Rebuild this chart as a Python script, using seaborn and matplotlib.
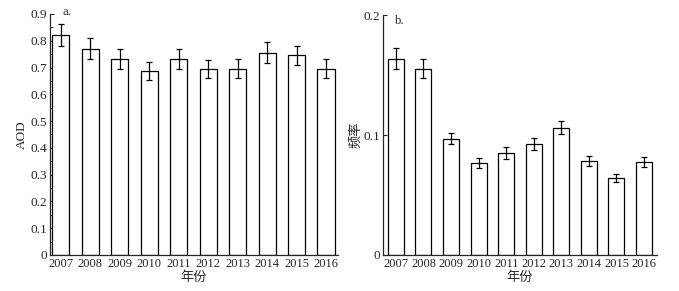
import numpy as np
import pandas as pd
import matplotlib.pyplot as plt
import seaborn as sns

years = ['2007', '2008', '2009', '2010', '2011', '2012', '2013', '2014', '2015', '2016']
aod = [0.821, 0.771, 0.731, 0.687, 0.731, 0.693, 0.695, 0.756, 0.745, 0.695]
aod_err = [0.042, 0.039, 0.037, 0.035, 0.037, 0.034, 0.035, 0.038, 0.037, 0.035]
freq = [0.1638, 0.1554, 0.0969, 0.0769, 0.0850, 0.0928, 0.1061, 0.0783, 0.0643, 0.0777]
freq_err = [0.0084, 0.0078, 0.0047, 0.0040, 0.0046, 0.0050, 0.0054, 0.0040, 0.0035, 0.0043]
aod_ticks = [0, 0.1, 0.2, 0.3, 0.4, 0.5, 0.6, 0.7, 0.8, 0.9]
aod_labels = ['0', '0.1', '0.2', '0.3', '0.4', '0.5', '0.6', '0.7', '0.8', '0.9']
freq_ticks = [0, 0.1, 0.2]
freq_labels = ['0', '0.1', '0.2']

sns.set_style('ticks')
plt.rcParams['font.family'] = ['Liberation Serif', 'Noto Sans CJK SC']
plt.rcParams['font.size'] = 9.5

df = pd.DataFrame({'year': years, 'aod': aod, 'aod_err': aod_err,
                   'freq': freq, 'freq_err': freq_err})

fig = plt.figure(figsize=(6.79, 2.91), dpi=100)
ax1 = fig.add_axes([0.0736, 0.124, 0.4244, 0.828])
ax2 = fig.add_axes([0.564, 0.124, 0.404, 0.824])

def draw(ax, col, err, ylim, xlim):
    sns.barplot(data=df, x='year', y=col, ax=ax, color='white', edgecolor='black',
                linewidth=0.9, width=0.58, errorbar=None)
    ax.errorbar(np.arange(len(years)), df[col], yerr=df[err], fmt='none',
                ecolor='black', elinewidth=0.9, capsize=2, capthick=0.9)
    ax.set_ylim(*ylim)
    ax.set_xlim(*xlim)
    ax.spines['top'].set_visible(False)
    ax.spines['right'].set_visible(False)
    for s in ['left', 'bottom']:
        ax.spines[s].set_linewidth(0.9)
    ax.tick_params(direction='in', length=3, width=0.8, pad=2)
    ax.tick_params(axis='x', length=2.5, labelsize=9)
    ax.set_xlabel('年份', fontsize=9.5, labelpad=1, family=['Noto Sans CJK SC'])

draw(ax1, 'aod', 'aod_err', (0, 0.9), (-0.36, 9.41))
ax1.set_yticks(aod_ticks)
ax1.set_yticklabels(aod_labels)
ax1.set_yticks([v + 0.05 for v in aod_ticks[:-1]], minor=True)
ax1.tick_params(axis='y', which='minor', direction='in', length=1.8, width=0.7)
ax1.set_ylim(0, 0.9)
ax1.set_ylabel('AOD', fontsize=9.5, labelpad=2)
ax1.text(0.045, 1.035, 'a.', transform=ax1.transAxes, fontsize=9, va='top')

draw(ax2, 'freq', 'freq_err', (0, 0.2), (-0.47, 9.48))
ax2.set_yticks(freq_ticks)
ax2.set_yticklabels(freq_labels)
ax2.set_ylim(0, 0.2)
ax2.set_ylabel('频率', fontsize=9.5, labelpad=1, family=['Noto Sans CJK SC'])
ax2.text(0.045, 1.0, 'b.', transform=ax2.transAxes, fontsize=9, va='top')

fig.savefig('out.png', dpi=100)
